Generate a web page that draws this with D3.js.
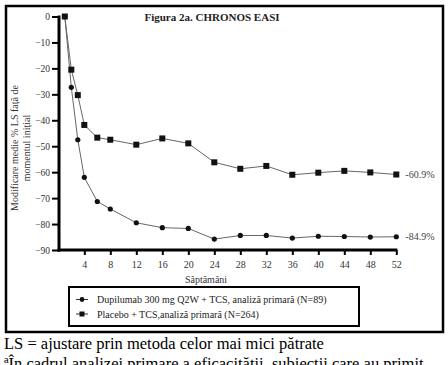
<!DOCTYPE html>
<html>
<head>
<meta charset="utf-8">
<script src="https://cdn.jsdelivr.net/npm/d3@7"></script>
<style>
body { margin: 0; background: #fff; }
svg text { font-family: "Liberation Serif", "DejaVu Serif", serif !important; }
</style>
</head>
<body>
<script>
// weeks as placed on the chart (first point sits one week right of the axis)
var weeks = [1, 2, 3, 4, 6, 8, 12, 16, 20, 24, 28, 32, 36, 40, 44, 48, 52];
var dupilumab = [0, -27.3, -47.5, -62, -71.3, -74.2, -79.5, -81.4, -81.7, -85.8, -84.4, -84.4, -85.4, -84.7, -84.8, -85.0, -84.9];
var placebo = [0, -20.5, -30.3, -41.8, -46.7, -47.5, -49.4, -47.0, -48.9, -56.2, -58.7, -57.6, -61.0, -60.2, -59.5, -60.1, -60.9];
var xTicks = [4, 8, 12, 16, 20, 24, 28, 32, 36, 40, 44, 48, 52];
var yTicks = [0, -10, -20, -30, -40, -50, -60, -70, -80, -90];
var legendLabels = ["Dupilumab 300 mg Q2W + TCS, analiză primară  (N=89)", "Placebo + TCS,analiză primară (N=264)"];
var endLabels = ["-84.9%", "-60.9%"];

var serif = "'Liberation Serif', serif";

var svg = d3.select("body").append("svg")
	.attr("width", 448)
	.attr("height", 365)
	.attr("font-family", serif);

// outer frame
svg.append("rect")
	.attr("x", 6).attr("y", 6)
	.attr("width", 437).attr("height", 326)
	.attr("fill", "none").attr("stroke", "#000").attr("stroke-width", 2.5);

var x = d3.scaleLinear().domain([0, 52]).range([58.3, 396.3]);
var y = d3.scaleLinear().domain([0, -90]).range([16.5, 250]);

// y axis
var yAxis = svg.append("g")
	.attr("transform", "translate(59,0)")
	.call(d3.axisLeft(y).tickValues(yTicks).tickSize(7).tickPadding(2).tickFormat(d3.format("d")));
yAxis.attr("font-family", serif);
yAxis.select(".domain").attr("stroke-width", 3).attr("d", "M0," + (y(0) - 1) + "V" + (y(-90) + 1.5));
yAxis.selectAll(".tick line").attr("stroke-width", 2);
yAxis.selectAll(".tick text").attr("font-size", 9.5).attr("fill", "#333");

// x axis
var xAxis = svg.append("g")
	.attr("transform", "translate(0,250)")
	.call(d3.axisBottom(x).tickValues(xTicks).tickSize(5).tickPadding(6));
xAxis.attr("font-family", serif);
xAxis.select(".domain").attr("stroke-width", 3).attr("d", "M57.5,0H" + (x(52) + 1));
xAxis.selectAll(".tick line").attr("stroke-width", 2);
xAxis.selectAll(".tick text").attr("font-size", 10).attr("fill", "#333");

// lines
var line = d3.line()
	.x(function(d, i){ return x(weeks[i]); })
	.y(function(d){ return y(d); });

svg.append("path").datum(placebo)
	.attr("d", line).attr("fill", "none").attr("stroke", "#666").attr("stroke-width", 1);
svg.append("path").datum(dupilumab)
	.attr("d", line).attr("fill", "none").attr("stroke", "#666").attr("stroke-width", 1);

svg.selectAll("rect.pbo")
	.data(placebo)
	.enter()
	.append("rect")
	.attr("class", "pbo")
	.attr("x", function(d, i){ return x(weeks[i]) - 3; })
	.attr("y", function(d){ return y(d) - 3; })
	.attr("width", 6).attr("height", 6)
	.attr("fill", "#111");

svg.selectAll("circle.dup")
	.data(dupilumab)
	.enter()
	.append("circle")
	.attr("class", "dup")
	.attr("cx", function(d, i){ return x(weeks[i]); })
	.attr("cy", function(d){ return y(d); })
	.attr("r", 2.6)
	.attr("fill", "#111");

// end labels
svg.append("text").attr("x", x(52) + 9).attr("y", y(dupilumab[dupilumab.length - 1]) + 3.5)
	.attr("font-size", 10).attr("fill", "#444").text(endLabels[0]);
svg.append("text").attr("x", x(52) + 9).attr("y", y(placebo[placebo.length - 1]) + 3.5)
	.attr("font-size", 10).attr("fill", "#444").text(endLabels[1]);

// title
svg.append("text").attr("x", 212).attr("y", 21)
	.attr("text-anchor", "middle").attr("font-size", 11).attr("font-weight", "bold")
	.attr("fill", "#222").text("Figura 2a. CHRONOS EASI");

// axis titles
svg.append("text").attr("x", 206).attr("y", 283)
	.attr("text-anchor", "middle").attr("font-size", 10).attr("fill", "#333").text("Săptămâni");

var yl = svg.append("text").attr("transform", "translate(18,148) rotate(-90)")
	.attr("text-anchor", "middle").attr("font-size", 10).attr("fill", "#333");
yl.append("tspan").attr("x", 0).attr("dy", 0).text("Modificare medie % LS față de");
yl.append("tspan").attr("x", 0).attr("dy", 12).text("momentul inițial");

// legend
var lg = svg.append("g");
lg.append("rect").attr("x", 69).attr("y", 287).attr("width", 290).attr("height", 39)
	.attr("fill", "#fff").attr("stroke", "#000").attr("stroke-width", 2);
[0, 1].forEach(function(i){
	var ly = 299.5 + i * 14.5;
	lg.append("line").attr("x1", 76).attr("x2", 88).attr("y1", ly).attr("y2", ly)
		.attr("stroke", "#333").attr("stroke-width", 1);
	if (i === 0) {
		lg.append("circle").attr("cx", 82).attr("cy", ly).attr("r", 2.4).attr("fill", "#111");
	} else {
		lg.append("rect").attr("x", 79.5).attr("y", ly - 2.5).attr("width", 5).attr("height", 5).attr("fill", "#111");
	}
	lg.append("text").attr("x", 97).attr("y", ly + 3.5).attr("font-size", 10)
		.attr("fill", "#222").text(legendLabels[i]);
});

// footnotes below the frame (second line is cut by the picture edge, as in the original)
svg.append("text").attr("x", 4).attr("y", 349).attr("font-size", 16.5).attr("fill", "#000")
	.text("LS = ajustare prin metoda celor mai mici pătrate");
svg.append("text").attr("x", 4).attr("y", 369).attr("font-size", 16.5).attr("fill", "#000")
	.text("ªÎn cadrul analizei primare a eficacității, subiecții care au primit");
</script>
</body>
</html>
